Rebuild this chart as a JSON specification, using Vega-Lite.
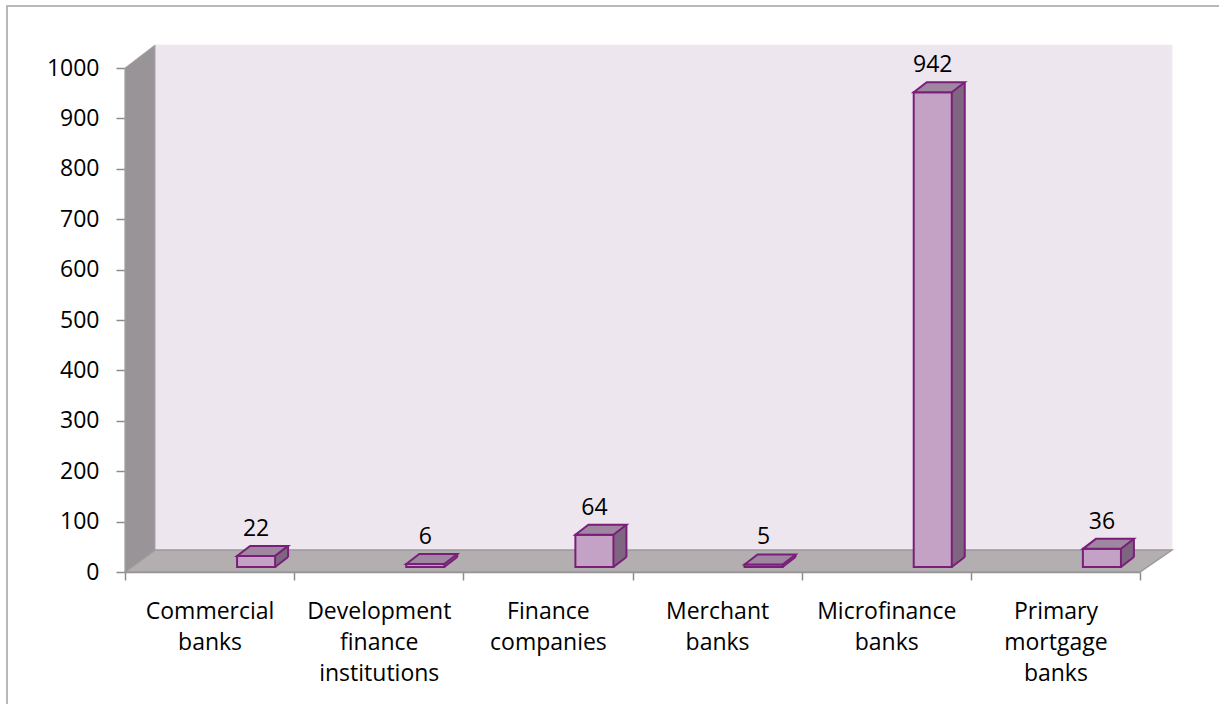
{
  "$schema": "https://vega.github.io/schema/vega-lite/v6.json",
  "width": 1015,
  "height": 504,
  "autosize": {"type": "none"},
  "padding": {"left": 125, "top": 68, "right": 79, "bottom": 132},
  "background": "white",
  "config": {
    "view": {"stroke": null},
    "font": "Open Sans",
    "axis": {
      "labelFont": "Open Sans",
      "labelFontSize": 23,
      "labelColor": "#000000",
      "domainColor": "#8C8C8C",
      "tickColor": "#8C8C8C",
      "domainWidth": 1.5,
      "tickWidth": 1.5,
      "grid": false,
      "zindex": 1
    },
    "axisY": {"tickSize": 9, "labelPadding": 17, "tickCount": 10, "format": "d"},
    "axisX": {"tickSize": 8, "labelPadding": 20, "labelAngle": 0, "labelLineHeight": 31, "tickBand": "extent"}
  },
  "data": {
    "values": [
      {"category": "Commercial banks", "value": 22},
      {"category": "Development finance institutions", "value": 6},
      {"category": "Finance companies", "value": 64},
      {"category": "Merchant banks", "value": 5},
      {"category": "Microfinance banks", "value": 942},
      {"category": "Primary mortgage banks", "value": 36}
    ]
  },
  "resolve": {"scale": {"x": "independent"}},
  "layer": [
    {
      "data": {"values": [{}]},
      "encoding": {
        "x": {"datum": 0, "type": "quantitative", "scale": {"domain": [0, 1]}, "axis": null},
        "y": {"datum": 0, "type": "quantitative", "scale": {"domain": [0, 1000], "nice": false}, "axis": {"title": null}}
      },
      "layer": [
        {"mark": {"type": "point", "shape": "M -118 700 L -118 -62 L 1300 -62", "size": 4, "filled": false, "color": "#A3A3A3", "strokeWidth": 1.5, "opacity": 1}, "encoding": {"y": {"datum": 1000, "type": "quantitative"}}},
        {"mark": {"type": "point", "shape": "M 30 -22 L 1047 -22 L 1047 -527 L 30 -527 Z", "size": 4, "filled": true, "fill": "#EDE6EE", "stroke": "#F2ECEF", "strokeWidth": 1, "opacity": 1}},
        {"mark": {"type": "point", "shape": "M 0 0 L 0 -504 L 30 -527 L 30 -22 Z", "size": 4, "filled": true, "fill": "#989497", "stroke": "#A7A3A5", "strokeWidth": 1, "opacity": 1}},
        {"mark": {"type": "point", "shape": "M 0 0 L 1015 0 L 1047 -22 L 30 -22 Z", "size": 4, "filled": true, "fill": "#B3AFB1", "stroke": "#9C989A", "strokeWidth": 1.5, "opacity": 1}}
      ]
    },
    {
      "encoding": {
        "x": {"field": "category", "type": "nominal", "sort": null, "scale": {"paddingInner": 0, "paddingOuter": 0}, "axis": {"title": null, "labelExpr": "split(datum.label, ' ')"}},
        "y": {"field": "value", "type": "quantitative", "scale": {"domain": [0, 1000], "nice": false}, "axis": {"title": null}}
      },
      "layer": [
        {"mark": {"type": "bar", "width": {"band": 0.225}, "fill": "#7E6681", "strokeWidth": 0, "xOffset": 59.5, "yOffset": -15, "y2Offset": -15}, "encoding": {"y2": {"datum": 0}}},
        {"mark": {"type": "point", "shape": "M 18 0.5 L 32.5 -10 L 32.5 -11 L 18 -11 Z", "size": 4, "filled": true, "fill": "#7E6681", "strokeWidth": 0, "opacity": 1, "xOffset": 46.5, "yOffset": -5}, "encoding": {"y": {"datum": 0, "type": "quantitative"}}},
        {"mark": {"type": "rule", "color": "#7A1F79", "strokeWidth": 2, "xOffset": 78.5, "yOffset": -15, "y2Offset": -15}, "encoding": {"y2": {"datum": 0}}},
        {"mark": {"type": "point", "shape": "M 19 0 L 32 -10", "size": 4, "filled": false, "color": "#7A1F79", "strokeWidth": 2, "opacity": 1, "xOffset": 46.5, "yOffset": -5}, "encoding": {"y": {"datum": 0, "type": "quantitative"}}},
        {"mark": {"type": "bar", "width": {"band": 0.225}, "fill": "#C4A2C5", "stroke": "#7A1F79", "strokeWidth": 2, "xOffset": 46.5, "yOffset": -5, "y2Offset": -5}, "encoding": {"y2": {"datum": 0}}},
        {"mark": {"type": "point", "shape": "M -19 0 L 19 0 L 32 -10 L -6 -10 Z", "size": 4, "filled": true, "fill": "#9F87A2", "stroke": "#7A1F79", "strokeWidth": 2, "opacity": 1, "xOffset": 46.5, "yOffset": -5}},
        {"mark": {"type": "text", "fontSize": 23, "font": "Open Sans", "color": "#000000", "baseline": "alphabetic", "xOffset": 46.5, "yOffset": -25}, "encoding": {"text": {"field": "value", "type": "quantitative"}}}
      ]
    }
  ]
}
